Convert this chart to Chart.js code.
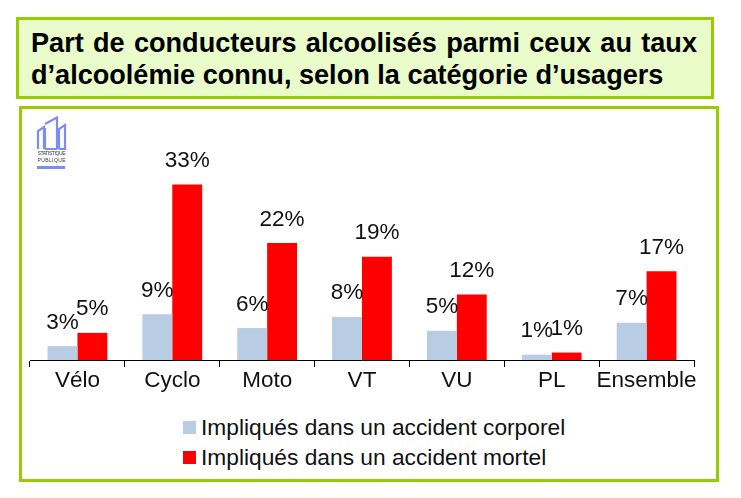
<!DOCTYPE html>
<html lang="fr">
<head>
<meta charset="utf-8">
<title>Part de conducteurs alcoolisés</title>
<script src="https://cdn.jsdelivr.net/npm/chart.js@4/dist/chart.umd.min.js"></script>
<style>
html, body { margin: 0; padding: 0; background: #fff; }
body { width: 741px; height: 498px; position: relative; overflow: hidden; font-family: "Liberation Sans", Arial, sans-serif; }
#titleBox { position: absolute; left: 16px; top: 17px; width: 698px; height: 82px; box-sizing: border-box; border: 3px solid #99cc00; background: #e9fcca; }
#titleBox div { position: absolute; left: 12px; width: 666px; font-size: 27.1px; font-weight: bold; color: #000; white-space: nowrap; line-height: 34px; }
#line1 { top: 6px; text-align: justify; text-align-last: justify; white-space: normal !important; }
#line2 { top: 38px; }
#chartBox { position: absolute; left: 19px; top: 106px; width: 700px; height: 376px; box-sizing: border-box; border: 3px solid #99cc00; background: #fff; }
#wrap { position: absolute; left: 20px; top: 109px; width: 690px; height: 300px; }
#logo { position: absolute; left: 36px; top: 116px; }
#legend { position: absolute; left: 183px; top: 412px; font-size: 22.75px; color: #111; }
#legend .row { display: flex; align-items: center; height: 30px; white-space: nowrap; }
#legend .box { width: 13px; height: 13px; margin-right: 5px; }
</style>
</head>
<body>
<div id="titleBox">
  <div id="line1">Part de conducteurs alcoolisés parmi ceux au taux</div>
  <div id="line2">d’alcoolémie connu, selon la catégorie d’usagers</div>
</div>
<div id="chartBox"></div>
<div id="wrap"><canvas id="chart"></canvas></div>
<svg id="logo" width="32" height="54" viewBox="0 0 32 54">
  <path d="M2 33V15L8 11V33M8 33M9 12V33M9 8L21 1.5V33M21 5V33M23 33V13L29 9V33H23M9 33H21" fill="none" stroke="#7b8cf5" stroke-width="2.2"/>
  <text x="15.5" y="39" font-size="5" text-anchor="middle" fill="#333" font-family="Liberation Sans" textLength="28">STATISTIQUE</text>
  <text x="15.5" y="46" font-size="5" text-anchor="middle" fill="#333" font-family="Liberation Sans" textLength="28">PUBLIQUE</text>
  <rect x="1" y="50" width="28" height="3" fill="#7b8cf5"/>
</svg>
<div id="legend"></div>
<script>
const categories = ['Vélo', 'Cyclo', 'Moto', 'VT', 'VU', 'PL', 'Ensemble'];
const corporel = [2.6, 8.6, 6, 8.1, 5.5, 1, 7];
const mortel = [5.1, 33, 22, 19.4, 12.3, 1.4, 16.7];
const corporelLabels = ['3%', '9%', '6%', '8%', '5%', '1%', '7%'];
const mortelLabels = ['5%', '33%', '22%', '19%', '12%', '1%', '17%'];
const seriesNames = ['Impliqués dans un accident corporel', 'Impliqués dans un accident mortel'];
const seriesColors = ['#b8cce4', '#ff0000'];
const labelSets = [corporelLabels, mortelLabels];

// percent labels above the bars
const barLabels = {
    id: 'barLabels',
    afterDatasetsDraw(chart) {
        const ctx = chart.ctx;
        ctx.save();
        ctx.font = '22.5px "Liberation Sans"';
        ctx.fillStyle = '#111';
        ctx.textAlign = 'center';
        ctx.textBaseline = 'alphabetic';
        chart.data.datasets.forEach((ds, i) => {
            chart.getDatasetMeta(i).data.forEach((bar, j) => {
                ctx.fillText(labelSets[i][j], bar.x, bar.y - 17.5);
            });
        });
        ctx.restore();
    }
};

new Chart(document.getElementById('chart'), {
    type: 'bar',
    data: {
        labels: categories,
        datasets: [
            { label: seriesNames[0], data: corporel, backgroundColor: seriesColors[0] },
            { label: seriesNames[1], data: mortel, backgroundColor: seriesColors[1] }
        ]
    },
    options: {
        responsive: true,
        maintainAspectRatio: false,
        animation: false,
        layout: { padding: { left: 10, right: 16, top: 0, bottom: 15 } },
        datasets: { bar: { categoryPercentage: 0.63, barPercentage: 1 } },
        plugins: { legend: { display: false }, tooltip: { enabled: false } },
        scales: {
            x: {
                border: { color: '#000', width: 1 },
                grid: { drawOnChartArea: false, drawTicks: true, tickLength: 7, color: '#000' },
                ticks: { font: { family: 'Liberation Sans', size: 22.5 }, color: '#111', padding: 0, maxRotation: 0, autoSkip: false }
            },
            y: { display: false, min: 0, max: 47.2 }
        }
    },
    plugins: [barLabels]
});

document.getElementById('legend').innerHTML = seriesNames.map((name, i) =>
    `<div class="row"><span class="box" style="background:${seriesColors[i]}"></span>${name}</div>`
).join('');
</script>
</body>
</html>
